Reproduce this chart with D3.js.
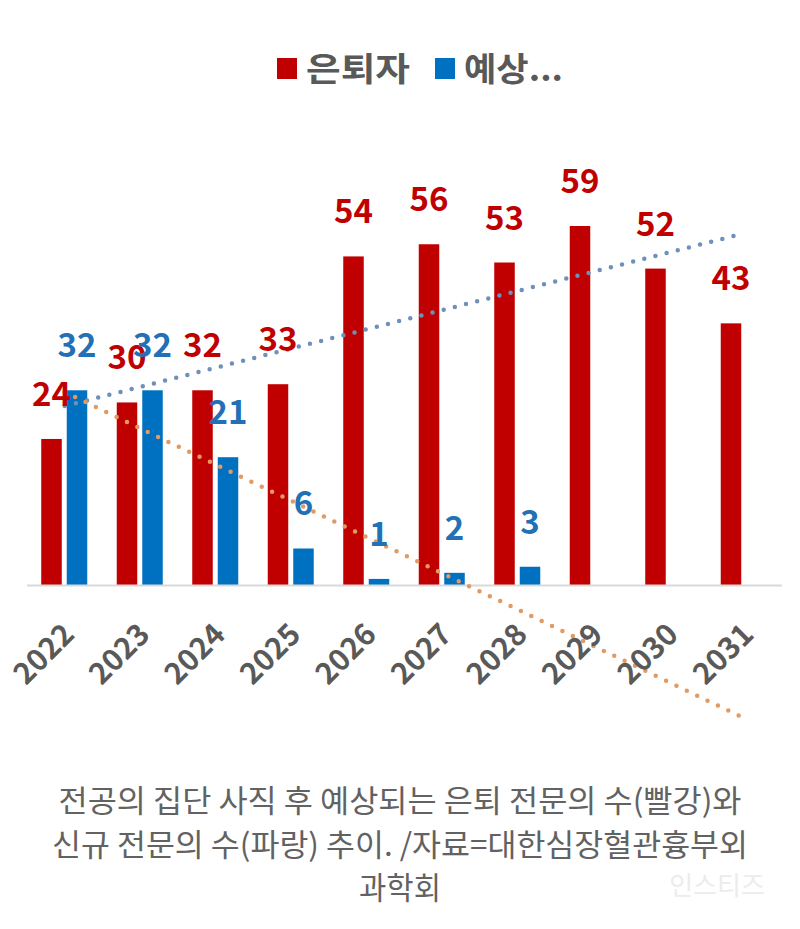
<!DOCTYPE html>
<html><head><meta charset="utf-8">
<script src="https://cdn.jsdelivr.net/npm/d3@7"></script>
<style>
html,body{margin:0;padding:0;background:#fff;}
svg{display:block;}
</style></head>
<body>
<svg id="chart" width="800" height="929"></svg>
<script>
const years = ["2022","2023","2024","2025","2026","2027","2028","2029","2030","2031"];
const retirees = [24,30,32,33,54,56,53,59,52,43];
const newSpecialists = [32,32,21,6,1,2,3,null,null,null];
const legendLabels = ["은퇴자","예상..."];
// trendline end values (at first and last category)
const retireTrend = [29.4, 57.8];
const newTrend = [31.7, -21.9];
const captionLines = ["전공의 집단 사직 후 예상되는 은퇴 전문의 수(빨강)와","신규 전문의 수(파랑) 추이. /자료=대한심장혈관흉부외","과학회"];
const captionWidths = [683, 696, 82];
const watermark = "인스티즈";

const RED = "#c00000", BLUE = "#0070c0";
const FONT = "'Noto Sans CJK KR','Noto Sans',sans-serif";
const svg = d3.select("#chart");

const x = d3.scaleBand().domain(years).range([27, 782]);
const y = d3.scaleLinear().domain([0, 59]).range([585, 226]);
const bw = 20.5;
const cx = d => x(d) + x.bandwidth()/2;

// bars
svg.append("g").selectAll("rect").data(years).join("rect")
  .attr("x", d => cx(d) - 23.5).attr("width", bw)
  .attr("y", (d,i) => y(retirees[i])).attr("height", (d,i) => y(0) - y(retirees[i]))
  .attr("fill", RED);
svg.append("g").selectAll("rect").data(years.filter((d,i)=>newSpecialists[i]!=null)).join("rect")
  .attr("x", d => cx(d) + 2).attr("width", bw)
  .attr("y", (d,i) => y(newSpecialists[i])).attr("height", (d,i) => y(0) - y(newSpecialists[i]))
  .attr("fill", BLUE);

// axis line
svg.append("line").attr("x1", 27).attr("x2", 782).attr("y1", 585.5).attr("y2", 585.5)
  .attr("stroke", "#d9d9d9").attr("stroke-width", 2);

// trendlines
const xi = d3.scaleLinear().domain([0, years.length-1]).range([cx(years[0]), cx(years[years.length-1])]);
const line = d3.line().x(d => xi(d[0])).y(d => y(d[1]));
svg.append("path").attr("d", line([[0, retireTrend[0]], [years.length-1, retireTrend[1]]]))
  .attr("fill","none").attr("stroke","#6f90b8").attr("stroke-width",4.5)
  .attr("stroke-linecap","round").attr("stroke-dasharray","0 11.5");
svg.append("path").attr("d", line([[0, newTrend[0]], [years.length-1, newTrend[1]]]))
  .attr("fill","none").attr("stroke","#e09a62").attr("stroke-width",4.5)
  .attr("stroke-linecap","round").attr("stroke-dasharray","0 11.5");

// data labels
svg.append("g").selectAll("text").data(years).join("text")
  .attr("x", d => cx(d) - 23.5 + bw/2).attr("y", (d,i) => y(retirees[i]) - 33)
  .attr("text-anchor","middle").attr("font-family",FONT).attr("font-weight",700)
  .attr("font-size",33).attr("fill",RED).text((d,i)=>retirees[i]);
svg.append("g").selectAll("text").data(years.filter((d,i)=>newSpecialists[i]!=null)).join("text")
  .attr("x", d => cx(d) + 2 + bw/2).attr("y", (d,i) => y(newSpecialists[i]) - 33)
  .attr("text-anchor","middle").attr("font-family",FONT).attr("font-weight",700)
  .attr("font-size",33).attr("fill","#2270b5").text((d,i)=>newSpecialists[i]);

// x tick labels
svg.append("g").selectAll("text").data(years).join("text")
  .attr("transform", d => `translate(${cx(d)-4},${621}) rotate(-45)`)
  .attr("text-anchor","end").attr("dy","0.72em")
  .attr("font-family",FONT).attr("font-weight",700).attr("font-size",30)
  .attr("fill","#595959").text(d=>d);

// legend
const lg = svg.append("g");
lg.append("rect").attr("x",277).attr("y",58).attr("width",20).attr("height",21).attr("fill",RED);
lg.append("text").attr("x",306).attr("y",81).attr("font-family",FONT).attr("font-weight",700)
  .attr("font-size",33).attr("fill","#595959")
  .attr("textLength",104).attr("lengthAdjust","spacingAndGlyphs").text(legendLabels[0]);
lg.append("rect").attr("x",435).attr("y",58).attr("width",20).attr("height",21).attr("fill",BLUE);
lg.append("text").attr("x",464).attr("y",81).attr("font-family",FONT).attr("font-weight",700)
  .attr("font-size",33).attr("fill","#595959")
  .attr("textLength",99).attr("lengthAdjust","spacingAndGlyphs").text(legendLabels[1]);

// caption
svg.append("g").selectAll("text").data(captionLines).join("text")
  .attr("x",(d,i)=>400 - captionWidths[i]/2).attr("y",(d,i)=>812 + i*43.5)
  .attr("font-family",FONT).attr("font-size",31).attr("fill","#626262")
  .attr("textLength",(d,i)=>captionWidths[i]).attr("lengthAdjust","spacingAndGlyphs")
  .text(d=>d);

// watermark
svg.append("text").attr("x",717).attr("y",895).attr("text-anchor","middle")
  .attr("font-family",FONT).attr("font-size",26).attr("fill","#ececec").text(watermark);
</script>
</body></html>
